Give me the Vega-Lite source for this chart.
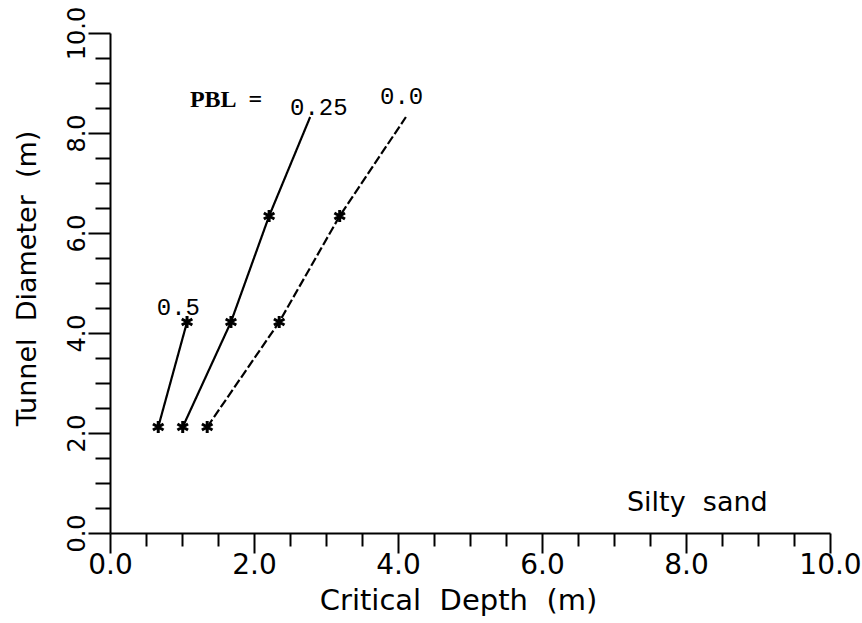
{
  "$schema": "https://vega.github.io/schema/vega-lite/v6.json",
  "width": 720,
  "height": 500,
  "autosize": {"type": "none"},
  "padding": {"left": 110, "top": 33, "right": 32, "bottom": 90},
  "background": "white",
  "config": {"view": {"stroke": null}},
  "datasets": {
    "curves": [
      {"pbl": "0.5", "depth": 0.67, "diameter": 2.12, "marker": true},
      {"pbl": "0.5", "depth": 1.07, "diameter": 4.22, "marker": true},
      {"pbl": "0.25", "depth": 1.01, "diameter": 2.12, "marker": true},
      {"pbl": "0.25", "depth": 1.68, "diameter": 4.22, "marker": true},
      {"pbl": "0.25", "depth": 2.21, "diameter": 6.34, "marker": true},
      {"pbl": "0.25", "depth": 2.78, "diameter": 8.32, "marker": false},
      {"pbl": "0.0", "depth": 1.35, "diameter": 2.12, "marker": true},
      {"pbl": "0.0", "depth": 2.35, "diameter": 4.22, "marker": true},
      {"pbl": "0.0", "depth": 3.19, "diameter": 6.34, "marker": true},
      {"pbl": "0.0", "depth": 4.11, "diameter": 8.32, "marker": false}
    ],
    "serifLabels": [
      {"text": "PBL\u00a0\u00a0=", "depth": 1.11, "diameter": 8.67}
    ],
    "monoLabels": [
      {"text": "0.25", "depth": 2.5, "diameter": 8.5},
      {"text": "0.0", "depth": 3.75, "diameter": 8.72},
      {"text": "0.5", "depth": 0.65, "diameter": 4.5}
    ],
    "note": [
      {"text": "Silty\u00a0\u00a0sand", "depth": 7.18, "diameter": 0.6}
    ]
  },
  "resolve": {"axis": {"x": "independent", "y": "independent"}},
  "layer": [
    {
      "data": {"name": "curves"},
      "mark": {"type": "line", "color": "black"},
      "encoding": {
        "x": {
          "field": "depth", "type": "quantitative",
          "scale": {"domain": [0, 10], "nice": false, "zero": false},
          "axis": {
            "orient": "bottom",
            "title": "Critical\u00a0\u00a0Depth\u00a0\u00a0(m)",
            "titleFont": "DejaVu Sans", "titleFontSize": 29, "titleFontWeight": "normal", "titleColor": "black",
            "titleX": 348, "titleY": 67, "titleBaseline": "middle", "titleAnchor": "middle", "titleAlign": "center",
            "values": [0, 2, 4, 6, 8, 10],
            "format": ".1f",
            "labelFont": "DejaVu Sans", "labelFontSize": 28, "labelColor": "black",
            "labelOverlap": false, "labelBound": false, "labelFlush": false,
            "labelBaseline": "top", "labelPadding": -2,
            "tickSize": 20, "tickColor": "black", "tickWidth": 2,
            "domainColor": "black", "domainWidth": 2,
            "grid": false
          }
        },
        "y": {
          "field": "diameter", "type": "quantitative",
          "scale": {"domain": [0, 10], "nice": false, "zero": false},
          "axis": {
            "orient": "left",
            "title": "Tunnel\u00a0\u00a0Diameter\u00a0\u00a0(m)",
            "titleFont": "DejaVu Sans", "titleFontSize": 27, "titleFontWeight": "normal", "titleColor": "black",
            "titleAngle": -90, "titleX": -83, "titleY": 245, "titleBaseline": "middle", "titleAlign": "center",
            "values": [0, 2, 4, 6, 8, 10],
            "format": ".1f",
            "labelFont": "DejaVu Sans", "labelFontSize": 24, "labelColor": "black",
            "labelOverlap": false, "labelBound": false, "labelFlush": false,
            "labelAngle": -90, "labelAlign": "center", "labelBaseline": "alphabetic", "labelPadding": 4,
            "tickSize": 22, "tickColor": "black", "tickWidth": 2,
            "domainColor": "black", "domainWidth": 2,
            "grid": false
          }
        },
        "detail": {"field": "pbl", "type": "nominal"},
        "strokeDash": {
          "field": "pbl", "type": "nominal",
          "scale": {"domain": ["0.5", "0.25", "0.0"], "range": [[1, 0], [1, 0], [9, 3]]},
          "legend": null
        },
        "strokeWidth": {
          "field": "pbl", "type": "nominal",
          "scale": {"domain": ["0.5", "0.25", "0.0"], "range": [2.2, 2.2, 1.5]},
          "legend": null
        }
      }
    },
    {
      "data": {"name": "curves"},
      "transform": [{"filter": "datum.marker"}],
      "mark": {
        "type": "point",
        "shape": "M0,-1L0,1M-0.866,-0.5L0.866,0.5M-0.866,0.5L0.866,-0.5",
        "filled": false, "stroke": "black", "strokeWidth": 3, "size": 150, "opacity": 1
      },
      "encoding": {
        "x": {
          "field": "depth", "type": "quantitative",
          "axis": {
            "orient": "bottom", "title": null, "labels": false, "domain": false, "grid": false,
            "values": [0.5, 1, 1.5, 2.5, 3, 3.5, 4.5, 5, 5.5, 6.5, 7, 7.5, 8.5, 9, 9.5],
            "tickSize": 13, "tickColor": "black", "tickWidth": 2
          }
        },
        "y": {
          "field": "diameter", "type": "quantitative",
          "axis": {
            "orient": "left", "title": null, "labels": false, "domain": false, "grid": false,
            "values": [0.5, 1, 1.5, 2.5, 3, 3.5, 4.5, 5, 5.5, 6.5, 7, 7.5, 8.5, 9, 9.5],
            "tickSize": 15, "tickColor": "black", "tickWidth": 2
          }
        }
      }
    },
    {
      "data": {"name": "serifLabels"},
      "mark": {"type": "text", "font": "Liberation Serif", "fontWeight": "bold", "fontSize": 24, "align": "left", "baseline": "middle", "color": "black"},
      "encoding": {
        "x": {"field": "depth", "type": "quantitative", "axis": null},
        "y": {"field": "diameter", "type": "quantitative", "axis": null},
        "text": {"field": "text"}
      }
    },
    {
      "data": {"name": "monoLabels"},
      "mark": {"type": "text", "font": "Liberation Mono", "fontSize": 24, "align": "left", "baseline": "middle", "color": "black"},
      "encoding": {
        "x": {"field": "depth", "type": "quantitative", "axis": null},
        "y": {"field": "diameter", "type": "quantitative", "axis": null},
        "text": {"field": "text"}
      }
    },
    {
      "data": {"name": "note"},
      "mark": {"type": "text", "font": "DejaVu Sans", "fontSize": 27, "align": "left", "baseline": "middle", "color": "black"},
      "encoding": {
        "x": {"field": "depth", "type": "quantitative", "axis": null},
        "y": {"field": "diameter", "type": "quantitative", "axis": null},
        "text": {"field": "text"}
      }
    }
  ]
}
